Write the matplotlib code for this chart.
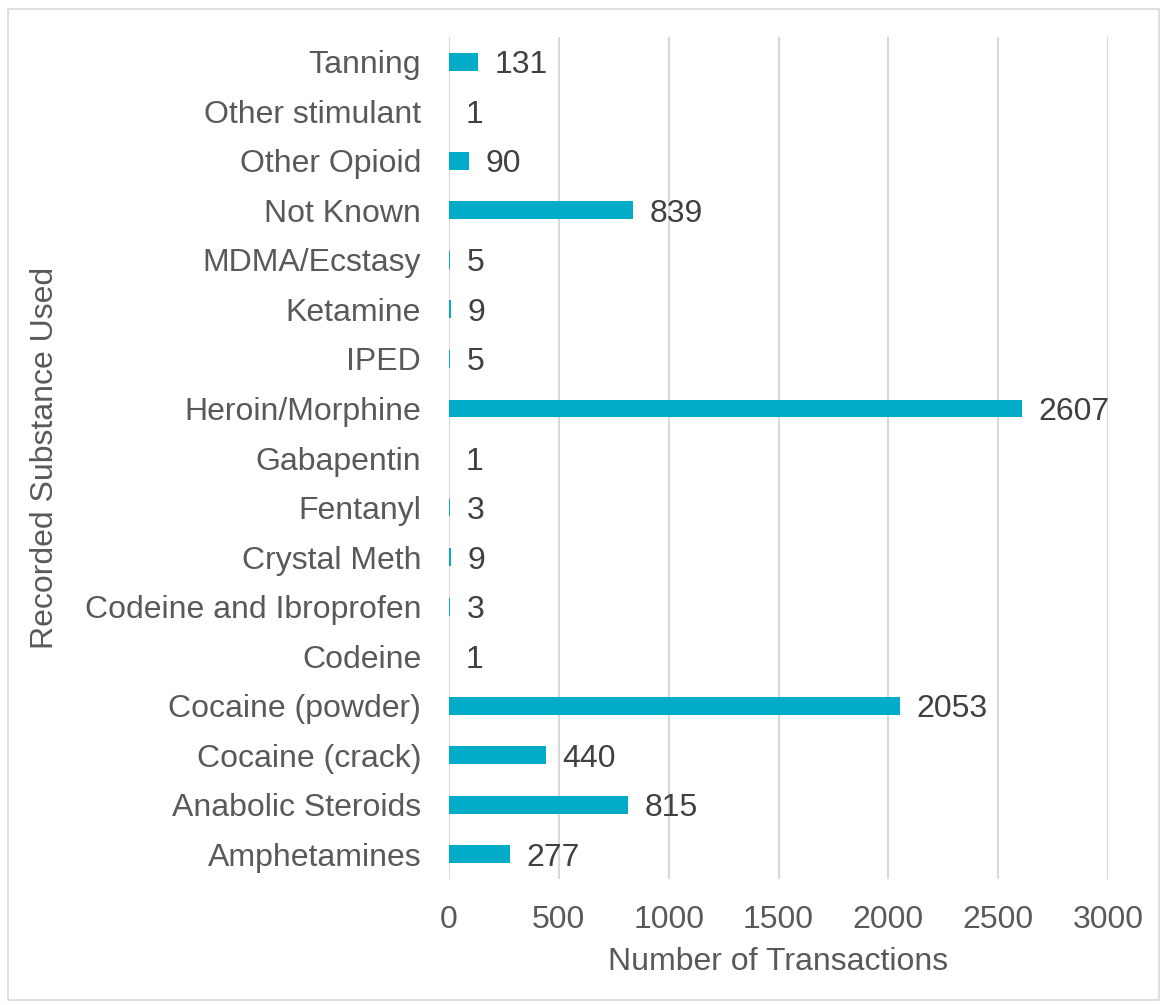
import matplotlib.pyplot as plt
from matplotlib.patches import Rectangle

plt.rcParams['font.family'] = ['Liberation Sans', 'DejaVu Sans']

# substances, bottom to top as drawn
substances = ["Amphetamines", "Anabolic Steroids", "Cocaine (crack)", "Cocaine (powder)",
              "Codeine", "Codeine and Ibroprofen", "Crystal Meth", "Fentanyl",
              "Gabapentin", "Heroin/Morphine", "IPED", "Ketamine", "MDMA/Ecstasy",
              "Not Known", "Other Opioid", "Other stimulant", "Tanning"]
transactions = [277, 815, 440, 2053, 1, 3, 9, 3, 1, 2607, 5, 9, 5, 839, 90, 1, 131]
x_ticks = [0, 500, 1000, 1500, 2000, 2500, 3000]

bar_color = "#02ACC8"
tick_color = "#595959"
label_color = "#404040"

fig = plt.figure(figsize=(11.65, 10.05), dpi=100)
ax = fig.add_axes([449/1165, 1 - 879/1005, 659/1165, 842/1005])

bars = ax.barh(range(len(substances)), transactions, height=0.36, color=bar_color, zorder=3)
texts = ax.bar_label(bars, labels=[str(v) for v in transactions], padding=12,
                     fontsize=23, color=label_color)
for t in texts:
    t.set_va('center_baseline')

ax.set_xlim(0, 3000)
ax.set_ylim(-0.5, len(substances) - 0.5)
ax.set_xticks(x_ticks)
ax.set_yticks(range(len(substances)))
ax.set_yticklabels(substances)
ax.tick_params(axis='x', length=0, pad=19, labelsize=23, labelcolor=tick_color)
ax.tick_params(axis='y', length=0, pad=20, labelsize=23, labelcolor=tick_color)

ax.grid(axis='x', color="#d9d9d9", linewidth=1.5, zorder=0)
for s in ax.spines.values():
    s.set_visible(False)

fig.text(778/1165, 1 - 962/1005, "Number of Transactions", ha='center', va='center',
         fontsize=23, color=tick_color)
fig.text(45/1165, 1 - 458/1005, "Recorded Substance Used", ha='center', va='center',
         rotation=90, fontsize=23, color=tick_color)

# chart area border
fig.patches.append(Rectangle((8/1165, 1 - 1000/1005), 1151/1165, 991/1005,
                             transform=fig.transFigure, fill=False,
                             edgecolor="#d9d9d9", linewidth=1.2))

fig.savefig("out.png", dpi=100)
